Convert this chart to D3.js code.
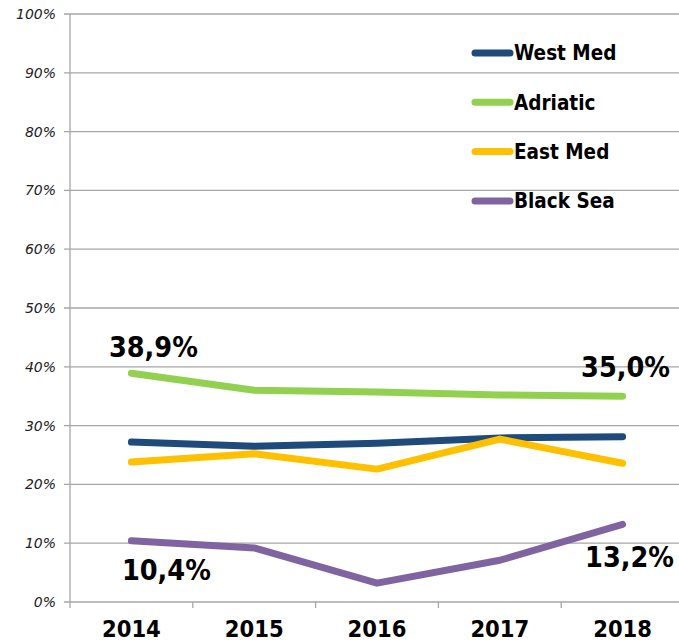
<!DOCTYPE html>
<html>
<head>
<meta charset="utf-8">
<script src="https://cdn.jsdelivr.net/npm/d3@7"></script>
<style>
    body {margin: 0; background: #fff;}
    svg {display: block;}
    .ytick text {font-family: "DejaVu Sans", sans-serif; font-style: italic; font-size: 14px; fill: #222;}
    .xlabel {font-family: "DejaVu Sans", sans-serif; font-stretch: condensed; font-weight: bold; font-size: 23.5px; fill: #000;}
    .legend text {font-family: "DejaVu Sans", sans-serif; font-stretch: condensed; font-weight: bold; font-size: 20.5px; fill: #000;}
    .vlabel {font-family: "DejaVu Sans", sans-serif; font-stretch: condensed; font-weight: bold; font-size: 28.5px; fill: #000;}
</style>
</head>
<body>
<svg id="chart"></svg>
<script>
const years = ['2014', '2015', '2016', '2017', '2018'];
const westMed = [27.2, 26.5, 27.0, 27.9, 28.1];
const adriatic = [38.9, 36.0, 35.7, 35.2, 35.0];
const eastMed = [23.8, 25.2, 22.6, 27.7, 23.6];
const blackSea = [10.4, 9.2, 3.2, 7.1, 13.2];
const yTicks = [0, 10, 20, 30, 40, 50, 60, 70, 80, 90, 100];

let graphicopt = {
    width: 679,
    height: 644,
    margin: {top: 14, right: -5, bottom: 42, left: 70},
    widthG: function(){return this.width-this.margin.left-this.margin.right},
    heightG: function(){return this.height-this.margin.top-this.margin.bottom},
};

const series = [
    {name: 'West Med', values: westMed, color: '#1f4a7c'},
    {name: 'Adriatic', values: adriatic, color: '#92d050'},
    {name: 'East Med', values: eastMed, color: '#ffc000'},
    {name: 'Black Sea', values: blackSea, color: '#8064a2'},
];

// first and last point labels
const labels = [
    {s: 1, i: 0, dx: 22, dy: -16},
    {s: 1, i: 4, dx: 3, dy: -19},
    {s: 3, i: 0, dx: 35, dy: 39},
    {s: 3, i: 4, dx: 7, dy: 43},
];

let svg = d3.select('#chart')
    .attr('width', graphicopt.width)
    .attr('height', graphicopt.height);

let g = svg.append('g')
    .attr('transform', `translate(${graphicopt.margin.left},${graphicopt.margin.top})`);

let x = d3.scaleBand().domain(years).range([0, graphicopt.widthG()]);
let y = d3.scaleLinear().domain([0, 100]).range([graphicopt.heightG(), 0]);

// grid + y ticks
let yt = g.selectAll('.ytick').data(yTicks).enter().append('g')
    .attr('class', 'ytick')
    .attr('transform', d => `translate(0,${y(d)})`);
yt.append('line').attr('x1', -6).attr('x2', graphicopt.widthG())
    .attr('stroke', '#a6a6a6').attr('stroke-width', 1.3);
yt.append('text').attr('x', -14).attr('dy', '0.35em')
    .attr('text-anchor', 'end').text(d => d + '%');

// axes lines
g.append('line').attr('x1', 0).attr('x2', 0).attr('y1', 0).attr('y2', graphicopt.heightG() + 6)
    .attr('stroke', '#a6a6a6').attr('stroke-width', 1.3);
g.selectAll('.xtick').data(years.slice(1)).enter().append('line')
    .attr('class', 'xtick')
    .attr('x1', d => x(d)).attr('x2', d => x(d))
    .attr('y1', graphicopt.heightG()).attr('y2', graphicopt.heightG() + 6)
    .attr('stroke', '#a6a6a6').attr('stroke-width', 1.3);

g.selectAll('.xlabel').data(years).enter().append('text')
    .attr('class', 'xlabel')
    .attr('x', d => x(d) + x.bandwidth() / 2)
    .attr('y', graphicopt.heightG() + 35)
    .attr('text-anchor', 'middle')
    .text(d => d);

// lines
let line = d3.line()
    .x((d, i) => x(years[i]) + x.bandwidth() / 2)
    .y(d => y(d));

g.selectAll('.serie').data(series).enter().append('path')
    .attr('class', 'serie')
    .attr('d', d => line(d.values))
    .attr('fill', 'none')
    .attr('stroke', d => d.color)
    .attr('stroke-width', 7)
    .attr('stroke-linecap', 'round')
    .attr('stroke-linejoin', 'round');

// value labels
g.selectAll('.vlabel').data(labels).enter().append('text')
    .attr('class', 'vlabel')
    .attr('x', d => x(years[d.i]) + x.bandwidth() / 2 + d.dx)
    .attr('y', d => y(series[d.s].values[d.i]) + d.dy)
    .attr('text-anchor', 'middle')
    .text(d => series[d.s].values[d.i].toFixed(1).replace('.', ',') + '%');

// legend
let legend = svg.append('g').attr('class', 'legend')
    .attr('transform', 'translate(475,53)');
let lg = legend.selectAll('g').data(series).enter().append('g')
    .attr('transform', (d, i) => `translate(0,${i * 49.3})`);
lg.append('line').attr('x1', 0).attr('x2', 35)
    .attr('stroke', d => d.color).attr('stroke-width', 7).attr('stroke-linecap', 'round');
lg.append('text').attr('x', 39).attr('dy', '0.36em').text(d => d.name);
</script>
</body>
</html>
